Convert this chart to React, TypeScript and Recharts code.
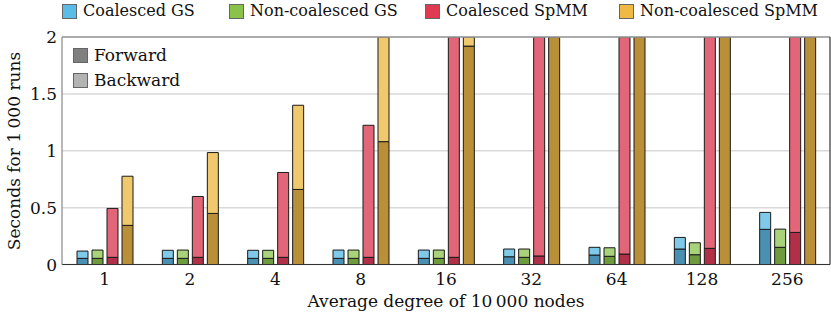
import { BarChart, Bar, XAxis, YAxis, CartesianGrid, ReferenceLine, Label } from 'recharts';

// x categories: average node degree
const degrees = ['1', '2', '4', '8', '16', '32', '64', '128', '256'];

// seconds for 1 000 runs, forward and backward parts (bars above 2 are clipped)
const coalescedGsForward = [0.054, 0.054, 0.054, 0.054, 0.054, 0.068, 0.083, 0.136, 0.309];
const coalescedGsBackward = [0.064, 0.071, 0.071, 0.073, 0.073, 0.068, 0.068, 0.102, 0.149];
const nonCoalescedGsForward = [0.054, 0.054, 0.054, 0.054, 0.054, 0.063, 0.072, 0.086, 0.151];
const nonCoalescedGsBackward = [0.073, 0.073, 0.071, 0.073, 0.073, 0.073, 0.075, 0.105, 0.16];
const coalescedSpmmForward = [0.063, 0.063, 0.063, 0.063, 0.063, 0.075, 0.092, 0.142, 0.282];
const coalescedSpmmBackward = [0.43, 0.535, 0.746, 1.161, 2.4, 4.6, 9.1, 18, 36];
const nonCoalescedSpmmForward = [0.344, 0.449, 0.66, 1.08, 1.92, 3.7, 7.2, 14, 28];
const nonCoalescedSpmmBackward = [0.432, 0.535, 0.74, 1.5, 1.8, 3.4, 6.6, 13, 26];

const yTicks = [0, 0.5, 1, 1.5, 2];

const FONT = '"DejaVu Serif", serif';

// legendX: left edge of each swatch in the top legend
const SERIES = [
  { key: 'cgs', name: 'Coalesced GS', swatch: '#5bbce6', fwd: '#4a90b2', bwd: '#7fc9e9', legendX: 62 },
  { key: 'ncgs', name: 'Non-coalesced GS', swatch: '#8bc34a', fwd: '#6f9b3f', bwd: '#a9d37b', legendX: 229 },
  { key: 'cspmm', name: 'Coalesced SpMM', swatch: '#e03a52', fwd: '#b13048', bwd: '#e26677', legendX: 425 },
  { key: 'ncspmm', name: 'Non-coalesced SpMM', swatch: '#efb944', fwd: '#b98f3a', bwd: '#f0c96e', legendX: 619 },
];

const data = degrees.map((degree, i) => ({
  degree,
  cgsFwd: coalescedGsForward[i],
  cgsBwd: coalescedGsBackward[i],
  ncgsFwd: nonCoalescedGsForward[i],
  ncgsBwd: nonCoalescedGsBackward[i],
  cspmmFwd: coalescedSpmmForward[i],
  cspmmBwd: coalescedSpmmBackward[i],
  ncspmmFwd: nonCoalescedSpmmForward[i],
  ncspmmBwd: nonCoalescedSpmmBackward[i],
}));

const swatchStyle = (color: string): React.CSSProperties => ({
  width: 13,
  height: 13,
  background: color,
  border: '1px solid #666',
  marginRight: 6,
  flexShrink: 0,
});

export default function App() {
  return (
    <div style={{ position: 'absolute', left: 0, top: 0, width: 831, height: 319, fontFamily: FONT, background: '#fff', overflow: 'hidden' }}>
      <BarChart
        width={831}
        height={319}
        data={data}
        margin={{ top: 37, right: 0, left: 10, bottom: 24.5 }}
        barSize={11}
        barGap={4}
      >
        <CartesianGrid vertical={false} stroke="#d9d9d9" strokeWidth={1.5} />
        <XAxis
          dataKey="degree"
          tick={{ fill: '#111', fontSize: 17, fontFamily: FONT }}
          tickLine={false}
          axisLine={{ stroke: '#333', strokeWidth: 1.2 }}
          height={30}
        >
          <Label
            value={'Average degree of 10\u2009000 nodes'}
            position="bottom"
            offset={0}
            style={{ fill: '#111', fontSize: 17, fontFamily: FONT }}
          />
        </XAxis>
        <YAxis
          domain={[0, 2]}
          ticks={yTicks}
          allowDataOverflow
          width={52}
          tickSize={3}
          tickMargin={2}
          tickLine={false}
          tick={{ fill: '#111', fontSize: 17, fontFamily: FONT }}
          axisLine={{ stroke: '#888', strokeWidth: 1.2 }}
        />
        <YAxis
          yAxisId="right"
          orientation="right"
          domain={[0, 2]}
          width={1}
          tick={false}
          tickLine={false}
          axisLine={{ stroke: '#333', strokeWidth: 1.2 }}
        />
        {SERIES.map((s) => [
          <Bar
            key={s.key + 'Fwd'}
            dataKey={s.key + 'Fwd'}
            stackId={s.key}
            fill={s.fwd}
            stroke="#1a1a1a"
            strokeWidth={1}
            isAnimationActive={false}
          />,
          <Bar
            key={s.key + 'Bwd'}
            dataKey={s.key + 'Bwd'}
            stackId={s.key}
            fill={s.bwd}
            stroke="#1a1a1a"
            strokeWidth={1}
            isAnimationActive={false}
          />,
        ])}
        <ReferenceLine y={2} stroke="#999" strokeWidth={1.5} />
      </BarChart>

      {/* series legend above the plot */}
      {SERIES.map((s) => (
        <div
          key={s.key}
          style={{
            position: 'absolute',
            left: s.legendX,
            top: 3,
            display: 'flex',
            alignItems: 'center',
            fontSize: 16,
            lineHeight: '16px',
            color: '#111',
            whiteSpace: 'nowrap',
          }}
        >
          <div style={swatchStyle(s.swatch)} />
          <span>{s.name}</span>
        </div>
      ))}

      {/* forward / backward legend inside the plot */}
      <div style={{ position: 'absolute', left: 73, top: 43, fontSize: 17, color: '#111', lineHeight: '25px' }}>
        <div style={{ display: 'flex', alignItems: 'center' }}>
          <div style={swatchStyle('#808080')} />
          <span>Forward</span>
        </div>
        <div style={{ display: 'flex', alignItems: 'center' }}>
          <div style={swatchStyle('#b3b3b3')} />
          <span>Backward</span>
        </div>
      </div>

      {/* y axis title */}
      <div
        style={{
          position: 'absolute',
          left: 14 - 150,
          top: 151 - 10,
          width: 300,
          height: 20,
          lineHeight: '20px',
          textAlign: 'center',
          fontSize: 17,
          color: '#111',
          transform: 'rotate(-90deg)',
        }}
      >
        {'Seconds for 1\u2009000 runs'}
      </div>
    </div>
  );
}
